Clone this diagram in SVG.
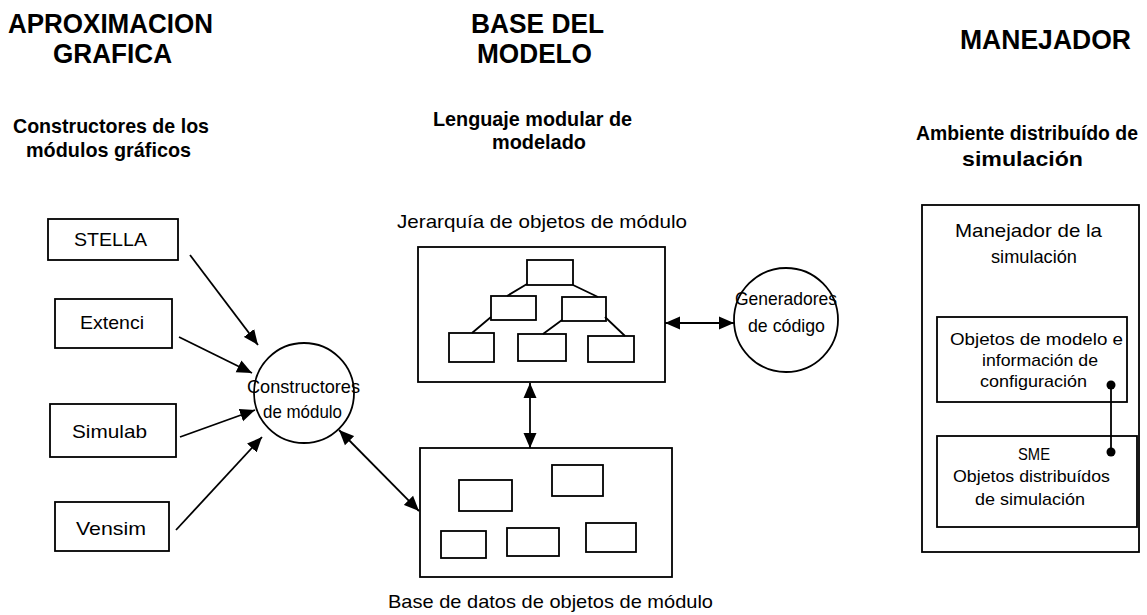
<svg xmlns="http://www.w3.org/2000/svg" width="1147" height="615" viewBox="0 0 1147 615">
<style>
text{font-family:"Liberation Sans",Arial,sans-serif;fill:#000;text-anchor:middle}
.h{font-size:27px;font-weight:bold}
.s{font-size:21px;font-weight:bold}
.t{font-size:19px}
.m{font-size:17px}
.box{fill:#fff;stroke:#000;stroke-width:1.8}
.ln{fill:none;stroke:#000;stroke-width:1.8}
.arr{fill:none;stroke:#000;stroke-width:1.8;marker-end:url(#ah)}
.darr{fill:none;stroke:#000;stroke-width:1.8;marker-start:url(#ah);marker-end:url(#ah)}
</style>
<defs>
<marker id="ah" markerUnits="userSpaceOnUse" markerWidth="16" markerHeight="14" refX="15" refY="6.5" orient="auto-start-reverse" viewBox="0 0 16 13">
<path d="M0,0 L15,6.5 L0,13 z" fill="#000"/>
</marker>
</defs>
<rect width="1147" height="615" fill="#fff"/>

<g id="headers">
<text class="h" x="110.5" y="33" textLength="205" lengthAdjust="spacingAndGlyphs">APROXIMACION</text>
<text class="h" x="112.5" y="63" textLength="119" lengthAdjust="spacingAndGlyphs">GRAFICA</text>
<text class="h" x="537.5" y="33" textLength="133" lengthAdjust="spacingAndGlyphs">BASE DEL</text>
<text class="h" x="534.5" y="63" textLength="115" lengthAdjust="spacingAndGlyphs">MODELO</text>
<text class="h" x="1045.5" y="49" textLength="171" lengthAdjust="spacingAndGlyphs">MANEJADOR</text>
<text class="s" x="111" y="133" textLength="196" lengthAdjust="spacingAndGlyphs">Constructores de los</text>
<text class="s" x="108.5" y="157" textLength="165" lengthAdjust="spacingAndGlyphs">módulos gráficos</text>
<text class="s" x="532.5" y="126" textLength="199" lengthAdjust="spacingAndGlyphs">Lenguaje modular de</text>
<text class="s" x="539" y="149" textLength="94" lengthAdjust="spacingAndGlyphs">modelado</text>
<text class="s" x="1027" y="140" style="font-size:20px" textLength="222" lengthAdjust="spacingAndGlyphs">Ambiente distribuído de</text>
<text class="s" x="1022.5" y="166" textLength="121" lengthAdjust="spacingAndGlyphs">simulación</text>
</g>

<g id="stella"><rect class="box" x="48" y="219" width="130" height="41"/><text class="t" x="110.5" y="246" textLength="73" lengthAdjust="spacingAndGlyphs">STELLA</text></g>
<g id="extenci"><rect class="box" x="55" y="299" width="117" height="49"/><text class="t" x="112" y="329" textLength="64" lengthAdjust="spacingAndGlyphs">Extenci</text></g>
<g id="simulab"><rect class="box" x="50" y="404" width="126" height="53"/><text class="t" x="109.5" y="438" textLength="75" lengthAdjust="spacingAndGlyphs">Simulab</text></g>
<g id="vensim"><rect class="box" x="55" y="502" width="114" height="49"/><text class="t" x="111" y="535" textLength="70" lengthAdjust="spacingAndGlyphs">Vensim</text></g>

<g id="constructores">
<circle class="box" cx="304" cy="393" r="50"/>
<text class="t" x="303.5" y="393" textLength="113" lengthAdjust="spacingAndGlyphs">Constructores</text>
<text class="t" x="302.5" y="418" textLength="79" lengthAdjust="spacingAndGlyphs">de módulo</text>
</g>

<g id="jerarquia">
<text class="t" x="542" y="228" textLength="290" lengthAdjust="spacingAndGlyphs">Jerarquía de objetos de módulo</text>
<rect class="box" x="418" y="247" width="247" height="135"/>
<rect class="box" x="527" y="260" width="46" height="25"/>
<rect class="box" x="491" y="296" width="45" height="24"/>
<rect class="box" x="562" y="297" width="44" height="24"/>
<rect class="box" x="449" y="333" width="45" height="29"/>
<rect class="box" x="518" y="334" width="48" height="27"/>
<rect class="box" x="588" y="336" width="46" height="26"/>
<path class="ln" d="M527,284 L507,296 M573,285 L598,297 M491,317 L472,333 M562,320 L543,334 M605,317 L625,336"/>
</g>

<g id="basedatos">
<rect class="box" x="420" y="448" width="252" height="129"/>
<rect class="box" x="459" y="480" width="53" height="31"/>
<rect class="box" x="552" y="465" width="51" height="31"/>
<rect class="box" x="441" y="531" width="45" height="27"/>
<rect class="box" x="507" y="528" width="52" height="28"/>
<rect class="box" x="586" y="523" width="50" height="29"/>
<text class="t" x="550.5" y="608" textLength="325" lengthAdjust="spacingAndGlyphs">Base de datos de objetos de módulo</text>
</g>

<g id="generadores">
<circle class="box" cx="786" cy="320" r="52"/>
<text class="t" x="786" y="305" textLength="102" lengthAdjust="spacingAndGlyphs">Generadores</text>
<text class="t" x="786.5" y="332" textLength="77" lengthAdjust="spacingAndGlyphs">de código</text>
</g>

<g id="manejador">
<rect class="box" x="922" y="205" width="217" height="347"/>
<text class="t" x="1028.5" y="237" textLength="147" lengthAdjust="spacingAndGlyphs">Manejador de la</text>
<text class="t" x="1034" y="263" textLength="86" lengthAdjust="spacingAndGlyphs">simulación</text>
</g>
<g id="objetos-modelo">
<rect class="box" x="937" y="317" width="190" height="85"/>
<text class="m" x="1036.5" y="345" textLength="173" lengthAdjust="spacingAndGlyphs">Objetos de modelo e</text>
<text class="m" x="1040" y="366" textLength="116" lengthAdjust="spacingAndGlyphs">información de</text>
<text class="m" x="1033.5" y="387" textLength="107" lengthAdjust="spacingAndGlyphs">configuración</text>
</g>
<g id="sme">
<rect class="box" x="937" y="436" width="200" height="91"/>
<text class="m" x="1034" y="460" textLength="32" lengthAdjust="spacingAndGlyphs">SME</text>
<text class="m" x="1031.5" y="482" textLength="157" lengthAdjust="spacingAndGlyphs">Objetos distribuídos</text>
<text class="m" x="1030" y="505" textLength="110" lengthAdjust="spacingAndGlyphs">de simulación</text>
</g>

<g id="connectors">
<line class="arr" x1="190" y1="255" x2="258" y2="345"/>
<line class="arr" x1="179" y1="337" x2="252" y2="373"/>
<line class="arr" x1="180" y1="437" x2="255" y2="410"/>
<line class="arr" x1="176" y1="530" x2="262" y2="437"/>
<line class="darr" x1="339" y1="430" x2="419" y2="511"/>
<line class="darr" x1="530" y1="383" x2="530" y2="448"/>
<line class="darr" x1="665" y1="323" x2="734" y2="323"/>
<line class="ln" x1="1111" y1="385" x2="1111" y2="452"/>
<circle cx="1111" cy="385" r="4.5" fill="#000"/>
<circle cx="1111" cy="452" r="4.5" fill="#000"/>
</g>
</svg>
